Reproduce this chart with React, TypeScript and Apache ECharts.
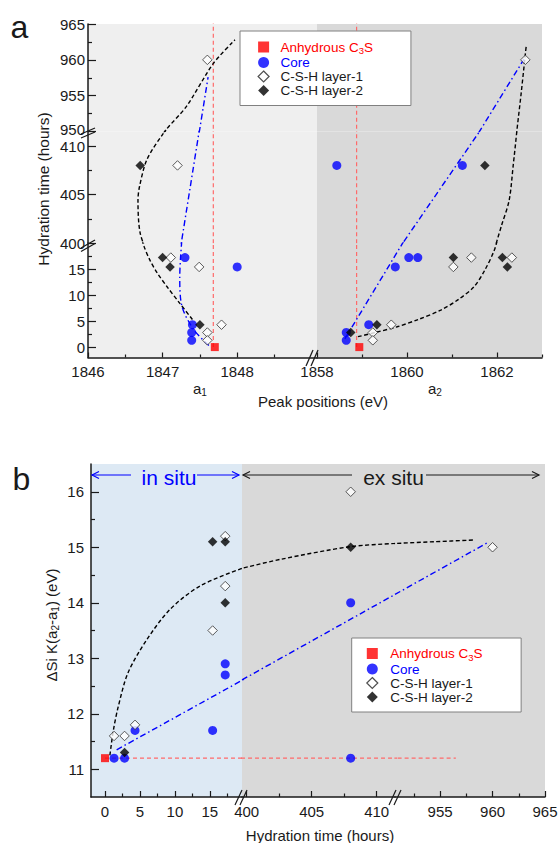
import React, { useEffect, useRef } from "react";
import * as echarts from "echarts";

type P = [number, number];

// ======================= DATA =======================
const NAME_ANH = "Anhydrous C3S";
const NAME_CORE = "Core";
const NAME_L1 = "C-S-H layer-1";
const NAME_L2 = "C-S-H layer-2";

// ---- Panel a: [peak position (eV), hydration time (hours)] ----
const aAnhydrous: P[] = [[1847.7, 0], [1858.94, 0]];
const aCore: P[] = [
  [1847.4, 4.3], [1847.39, 2.8], [1847.39, 1.3], [1847.3, 17.2], [1848.0, 15.4],
  [1858.65, 2.8], [1858.65, 1.3], [1859.15, 4.3], [1859.74, 15.4], [1860.04, 17.2],
  [1860.24, 17.2], [1858.44, 408], [1861.23, 408],
];
const aLayer1: P[] = [
  [1847.11, 17.2], [1847.49, 15.4], [1847.79, 4.3], [1847.6, 2.8], [1847.6, 1.3],
  [1847.2, 408], [1847.6, 960],
  [1859.24, 2.8], [1859.24, 1.3], [1859.65, 4.3], [1861.03, 15.4], [1861.43, 17.2],
  [1862.33, 17.2], [1862.63, 960],
];
const aLayer2: P[] = [
  [1847.0, 17.2], [1847.1, 15.4], [1847.5, 4.3], [1846.7, 408],
  [1858.75, 2.8], [1859.33, 4.3], [1861.03, 17.2], [1862.12, 17.2], [1862.23, 15.4], [1861.73, 408],
];

// guide curves of panel a, one array per axis segment (top / middle / bottom)
const aFitLayerA1Top: P[] = [[1846.96, 949.0], [1847.05, 950.3], [1847.32, 953.5], [1847.68, 959.5], [1847.97, 962.8]];
const aFitLayerA1Mid: P[] = [[1846.83, 398.3], [1846.7, 401.0], [1846.67, 404.4], [1846.69, 405.8], [1846.79, 408.6], [1847.01, 411.3], [1847.12, 412.2]];
const aFitLayerA1Bot: P[] = [[1847.4, 5.3], [1847.22, 8.6], [1847.06, 11.6], [1846.93, 14.2], [1846.83, 16.7], [1846.75, 19.4], [1846.7, 21.9]];
const aFitCoreA1Top: P[] = [[1847.49, 949.8], [1847.61, 957.6]];
const aFitCoreA1Mid: P[] = [[1847.23, 399], [1847.5, 412]];
const aFitCoreA1Bot: P[] = [[1847.62, 0.3], [1847.42, 3.3], [1847.26, 7.8], [1847.23, 13.5], [1847.24, 17], [1847.26, 21]];
const aFitLayerA2Top: P[] = [[1862.43, 949.5], [1862.54, 955.5], [1862.64, 961.4], [1862.65, 961.9]];
const aFitLayerA2Mid: P[] = [[1861.94, 399.3], [1862.1, 401.8], [1862.27, 404.4], [1862.36, 408.0], [1862.44, 411.5], [1862.46, 412.5]];
const aFitLayerA2Bot: P[] = [[1858.91, 2.0], [1859.34, 2.9], [1859.78, 3.9], [1860.25, 5.3], [1860.75, 7.1], [1861.15, 9.2], [1861.49, 11.6], [1861.73, 14.8], [1861.94, 18.6], [1862.02, 21.0]];
const aFitCoreA2Top: P[] = [[1861.59, 949.8], [1862.6, 960.1]];
const aFitCoreA2Mid: P[] = [[1859.76, 399], [1861.76, 412.5]];
const aFitCoreA2Bot: P[] = [[1858.62, 1.6], [1860.01, 21.5]];
// anhydrous reference positions (vertical dashed lines)
const aRefA1: P[] = [[1847.68, 0], [1847.68, 966]];
const aRefA2: P[] = [[1858.88, 0], [1858.88, 966]];

// ---- Panel b: [hydration time (hours), ΔSi K(a2-a1) (eV)] ----
const bAnhydrous: P[] = [[0, 11.2]];
const bCore: P[] = [[1.3, 11.2], [2.8, 11.2], [4.3, 11.7], [15.4, 11.7], [17.2, 12.9], [17.2, 12.7], [408, 14.0], [408, 11.2]];
const bLayer1: P[] = [[1.3, 11.6], [2.8, 11.6], [4.3, 11.8], [15.4, 13.5], [17.2, 15.2], [17.2, 14.3], [408, 16.0], [960, 15.0]];
const bLayer2: P[] = [[2.8, 11.3], [15.4, 15.1], [17.2, 15.1], [17.2, 14.0], [408, 15.0]];
const bFitLayerL: P[] = [[0.7, 11.25], [1.2, 11.7], [1.9, 12.13], [3.3, 12.74], [5.96, 13.33], [9.3, 13.88], [13.57, 14.3], [19.6, 14.62], [21, 14.66]];
const bFitLayerM: P[] = [[399.3, 14.6], [402.56, 14.78], [407.95, 15.01], [411.41, 15.07], [412, 15.08]];
const bFitLayerR: P[] = [[950.3, 15.065], [954.5, 15.1], [958.2, 15.13]];
const bFitCoreL: P[] = [[1.67, 11.35], [21, 12.7]];
const bFitCoreM: P[] = [[399.64, 12.61], [411.41, 14.15]];
const bFitCoreR: P[] = [[950.7, 14.15], [959.6, 15.09]];
const bRefAnhydrous: P[] = [[0, 11.2], [956.5, 11.2]];

// ---- axis segments and ticks ----
const aXRanges: P[] = [[1846, 1849.07], [1858, 1863]];
const aXMajor = [[1846, 1847, 1848], [1858, 1860, 1862]];
const aXMinor = [[1846.5, 1847.5, 1848.5], [1859, 1861, 1863]];
const aYRanges: P[] = [[950, 965], [400, 411.5], [-2, 20]];
const aYMajor = [[950, 955, 960, 965], [400, 405, 410], [0, 5, 10, 15]];
const aYMinor = [[952.5, 957.5, 962.5], [402.5, 407.5], [2.5, 7.5, 12.5, 17.5]];
const bXRanges: P[] = [[-2, 19.6], [399.64, 411.41], [950.7, 965]];
const bXMajor = [[0, 5, 10, 15], [400, 405, 410], [955, 960, 965]];
const bXMinor = [[2.5, 7.5, 12.5, 17.5], [402.5, 407.5], [952.5, 957.5, 962.5]];
const bYRange: P = [10.5, 16.5];
const bYMajor = [11, 12, 13, 14, 15, 16];
const bYMinor = [11.5, 12.5, 13.5, 14.5, 15.5];

// ======================= STYLE / LAYOUT =======================
const FONT = '"Liberation Sans", Arial, Helvetica, sans-serif';
const INK = "#1a1a1a";
const RED = "#ff0000";
const BLUE = "#0000ff";

const aCols = [
  { left: 88, width: 229, bg: "#efefef" },
  { left: 317, width: 225, bg: "#d9d9d9" },
];
const aRows = [
  { top: 24, height: 107.5 },
  { top: 131.5, height: 111.5 },
  { top: 243, height: 114.5 },
];
const bCols = [
  { left: 91, width: 151, bg: "#dde9f4" },
  { left: 242, width: 153, bg: "#d9d9d9" },
  { left: 395, width: 150, bg: "#d9d9d9" },
];
const bRow = { top: 464, height: 333 };

const LOOK: Record<string, any> = {
  [NAME_ANH]: { symbol: "rect", symbolSize: 8, itemStyle: { color: RED } },
  [NAME_CORE]: { symbol: "circle", symbolSize: 9, itemStyle: { color: BLUE } },
  [NAME_L1]: { symbol: "diamond", symbolSize: 9.5, itemStyle: { color: "#ffffff", borderColor: "#333", borderWidth: 1 } },
  [NAME_L2]: { symbol: "diamond", symbolSize: 9.5, itemStyle: { color: "#000000" } },
};

const fitBlack = { color: "#000", width: 1.4, type: [4, 2.5] };
const fitBlue = { color: BLUE, width: 1.4, type: [6, 3, 1.5, 3] };
const refRed = { color: "#ff6a6a", width: 1.2, type: [4, 3] };

type G = { xi: number; yi: number; xr: P; yr: P };

function addAxes(list: any[], dim: "x" | "y", gridIndex: number, range: P, majors: number[], minors: number[],
  visible: boolean, tickLen: number, minorLen: number, margin: number, liftValue?: number) {
  const common = {
    type: "value", gridIndex, min: range[0], max: range[1],
    position: dim === "x" ? "bottom" : "left", show: visible,
    splitLine: { show: false }, z: 5,
  };
  const idx = list.length;
  list.push({
    ...common,
    axisLine: { show: true, onZero: false, lineStyle: { color: INK, width: 1.5 } },
    axisTick: { show: true, inside: true, length: tickLen, customValues: majors, lineStyle: { color: INK, width: 1.2 } },
    axisLabel: {
      show: true, customValues: majors, margin, color: INK, fontSize: 15, fontFamily: FONT,
      formatter: (v: number) => (v === liftValue ? `{u|${v}}` : String(v)),
      rich: { u: { fontSize: 15, fontFamily: FONT, color: INK, padding: [0, 0, 4, 0] } },
    },
  });
  list.push({
    ...common,
    axisLine: { show: false, onZero: false },
    axisTick: { show: true, inside: true, length: minorLen, customValues: minors, lineStyle: { color: INK, width: 1.2 } },
    axisLabel: { show: false },
  });
  return idx;
}

function buildOption() {
  const grids: any[] = [];
  const xAxes: any[] = [];
  const yAxes: any[] = [];
  const series: any[] = [];

  const gridBase = { show: true, borderWidth: 0, containLabel: false, outerBoundsMode: "none" };

  const aG: G[][] = [];
  aRows.forEach((row, r) => {
    aG[r] = [];
    aCols.forEach((col, c) => {
      const gi = grids.length;
      grids.push({ ...gridBase, left: col.left, top: row.top, width: col.width, height: row.height, backgroundColor: col.bg });
      const xi = addAxes(xAxes, "x", gi, aXRanges[c], aXMajor[c], aXMinor[c], r === 2, 5, 3, 6);
      const yi = addAxes(yAxes, "y", gi, aYRanges[r], aYMajor[r], aYMinor[r], c === 0, 8, 4, 3, r === 0 ? 950 : undefined);
      aG[r][c] = { xi, yi, xr: aXRanges[c], yr: aYRanges[r] };
    });
  });

  const bG: G[] = [];
  bCols.forEach((col, c) => {
    const gi = grids.length;
    grids.push({ ...gridBase, left: col.left, top: bRow.top, width: col.width, height: bRow.height, backgroundColor: col.bg });
    const xi = addAxes(xAxes, "x", gi, bXRanges[c], bXMajor[c], bXMinor[c], true, 6, 3.5, 7);
    const yi = addAxes(yAxes, "y", gi, bYRange, bYMajor, bYMinor, c === 0, 8, 4, 7);
    bG[c] = { xi, yi, xr: bXRanges[c], yr: bYRange };
  });

  const addLine = (g: G, data: P[], lineStyle: any, smooth: number | boolean) => {
    series.push({
      type: "line", name: "_fit" + series.length, xAxisIndex: g.xi, yAxisIndex: g.yi, data,
      showSymbol: false, symbol: "none", smooth, clip: true, lineStyle, z: 2, silent: true,
    });
  };
  const addScatter = (g: G, name: string, pts: P[]) => {
    const data = pts.filter((p) => p[0] >= g.xr[0] && p[0] <= g.xr[1] && p[1] >= g.yr[0] && p[1] <= g.yr[1]);
    if (!data.length) return;
    series.push({ type: "scatter", name, xAxisIndex: g.xi, yAxisIndex: g.yi, data, z: 3, silent: true, ...LOOK[name] });
  };

  // ---- panel a lines ----
  [0, 1, 2].forEach((r) => {
    addLine(aG[r][0], aRefA1, refRed, false);
    addLine(aG[r][1], aRefA2, refRed, false);
  });
  addLine(aG[0][0], aFitLayerA1Top, fitBlack, 0.25);
  addLine(aG[1][0], aFitLayerA1Mid, fitBlack, 0.3);
  addLine(aG[2][0], aFitLayerA1Bot, fitBlack, 0.3);
  addLine(aG[0][0], aFitCoreA1Top, fitBlue, false);
  addLine(aG[1][0], aFitCoreA1Mid, fitBlue, false);
  addLine(aG[2][0], aFitCoreA1Bot, fitBlue, 0.3);
  addLine(aG[0][1], aFitLayerA2Top, fitBlack, 0.3);
  addLine(aG[1][1], aFitLayerA2Mid, fitBlack, 0.3);
  addLine(aG[2][1], aFitLayerA2Bot, fitBlack, 0.3);
  addLine(aG[0][1], aFitCoreA2Top, fitBlue, false);
  addLine(aG[1][1], aFitCoreA2Mid, fitBlue, false);
  addLine(aG[2][1], aFitCoreA2Bot, fitBlue, false);

  // ---- panel b lines ----
  bG.forEach((g) => addLine(g, bRefAnhydrous, refRed, false));
  addLine(bG[0], bFitLayerL, fitBlack, 0.3);
  addLine(bG[1], bFitLayerM, fitBlack, 0.3);
  addLine(bG[2], bFitLayerR, fitBlack, 0.3);
  addLine(bG[0], bFitCoreL, fitBlue, false);
  addLine(bG[1], bFitCoreM, fitBlue, false);
  addLine(bG[2], bFitCoreR, fitBlue, false);

  // ---- points ----
  const aSets: [string, P[]][] = [[NAME_ANH, aAnhydrous], [NAME_CORE, aCore], [NAME_L1, aLayer1], [NAME_L2, aLayer2]];
  const bSets: [string, P[]][] = [[NAME_ANH, bAnhydrous], [NAME_CORE, bCore], [NAME_L1, bLayer1], [NAME_L2, bLayer2]];
  aSets.forEach(([name, pts]) => aG.forEach((row) => row.forEach((g) => addScatter(g, name, pts))));
  bSets.forEach(([name, pts]) => bG.forEach((g) => addScatter(g, name, pts)));

  // ---- legends ----
  const legendData = [
    { name: NAME_ANH, icon: "rect", itemStyle: { color: RED, borderWidth: 0 } },
    { name: NAME_CORE, icon: "circle", itemStyle: { color: BLUE, borderWidth: 0 } },
    { name: NAME_L1, icon: "diamond", itemStyle: { color: "#fff", borderColor: "#222", borderWidth: 1.2 } },
    { name: NAME_L2, icon: "diamond", itemStyle: { color: "#000", borderWidth: 0 } },
  ];
  const LFS = 13.5;
  const legendRich = {
    r: { color: RED, fontSize: LFS, fontFamily: FONT, lineHeight: 17 },
    rs: { color: RED, fontSize: 9.5, fontFamily: FONT, lineHeight: 9.5, verticalAlign: "bottom" },
    b: { color: BLUE, fontSize: LFS, fontFamily: FONT, lineHeight: 17 },
    k: { color: INK, fontSize: LFS, fontFamily: FONT, lineHeight: 17 },
  };
  const legendFormatter = (name: string) => {
    if (name === NAME_ANH) return "{r|Anhydrous C}{rs|3}{r|S}";
    if (name === NAME_CORE) return "{b|Core}";
    return `{k|${name}}`;
  };
  const legendBase = {
    orient: "vertical", data: legendData, itemGap: 0, itemWidth: 11, itemHeight: 11,
    backgroundColor: "#ffffff", borderColor: "#808080", borderWidth: 1, selectedMode: false,
    formatter: legendFormatter, z: 6,
  };
  const legends = [
    { ...legendBase, left: 240, top: 31, padding: [9, 38, 8, 17.5], textStyle: { padding: [0, 0, 0, 6.5], rich: legendRich } },
    { ...legendBase, left: 351.7, top: 638, padding: [8.5, 38.5, 8, 14.5], textStyle: { padding: [0, 0, 0, 7.5], rich: legendRich } },
  ];

  // ---- graphics: titles, annotations, break marks ----
  const txt = (text: string, x: number, y: number, fontSize: number, fill = INK, extra: any = {}) => ({
    type: "text", x, y, z: 20, silent: true,
    style: { text, fontSize, fontFamily: FONT, fill, align: "center", verticalAlign: "middle", ...(extra.style || {}) },
    ...(extra.rotation !== undefined ? { rotation: extra.rotation } : {}),
  });
  const subRich = (fs: number) => ({
    m: { fontSize: fs, fontFamily: FONT, fill: INK, lineHeight: fs + 3 },
    s: { fontSize: fs * 0.67, fontFamily: FONT, fill: INK, lineHeight: fs * 0.67, verticalAlign: "bottom" },
  });
  const seg = (x1: number, y1: number, x2: number, y2: number, stroke = INK, lineWidth = 1.2) => ({
    type: "line", z: 20, silent: true, shape: { x1, y1, x2, y2 }, style: { stroke, lineWidth },
  });
  const head = (points: number[][], stroke: string) => ({
    type: "polyline", z: 20, silent: true, shape: { points }, style: { stroke, lineWidth: 1.2, fill: "none" },
  });

  const graphic: any[] = [
    txt("a", 19.5, 27, 32),
    txt("b", 21.5, 479, 32),
    txt("{m|a}{s|1}", 200, 388, 15, INK, { style: { rich: subRich(15) } }),
    txt("{m|a}{s|2}", 435, 388, 15, INK, { style: { rich: subRich(15) } }),
    txt("Peak positions (eV)", 323, 401, 15),
    txt("Hydration time (hours)", 43, 189, 15.5, INK, { rotation: Math.PI / 2 }),
    txt("{m|ΔSi K(a}{s|2}{m|-a}{s|1}{m|) (eV)}", 51, 625, 15, INK, { rotation: Math.PI / 2, style: { rich: subRich(15) } }),
    txt("Hydration time (hours)", 320, 835.5, 15),
    // in situ / ex situ
    seg(92, 475, 131, 475, BLUE),
    head([[99, 471.5], [92, 475], [99, 478.5]], BLUE),
    seg(197, 475, 239, 475, BLUE),
    head([[232, 471.5], [239, 475], [232, 478.5]], BLUE),
    txt("in situ", 169, 477, 21, BLUE),
    seg(243, 475, 352, 475, INK),
    head([[250, 471.5], [243, 475], [250, 478.5]], INK),
    seg(426, 475, 539, 475, INK),
    head([[532, 471.5], [539, 475], [532, 478.5]], INK),
    txt("ex situ", 393.5, 477, 21, INK),
    // break marks
    seg(81, 134, 95, 128), seg(81, 138, 95, 132),
    seg(81, 248, 95, 240), seg(81, 251.5, 95, 243.5),
    seg(306, 366, 313, 350), seg(311, 366, 318, 350),
    seg(235, 805, 242, 790), seg(240, 805, 247, 790),
    seg(389, 805, 396, 790), seg(394, 805, 401, 790),
  ];

  return {
    animation: false,
    backgroundColor: "#ffffff",
    textStyle: { fontFamily: FONT },
    grid: grids,
    xAxis: xAxes,
    yAxis: yAxes,
    legend: legends,
    series,
    graphic,
  };
}

export default function App() {
  const ref = useRef<HTMLDivElement>(null);
  useEffect(() => {
    if (!ref.current) return;
    const chart = echarts.init(ref.current, null, { renderer: "svg" });
    chart.setOption(buildOption() as any);
    return () => chart.dispose();
  }, []);
  return <div ref={ref} style={{ position: "fixed", left: 0, top: 0, width: 559, height: 843 }} />;
}
